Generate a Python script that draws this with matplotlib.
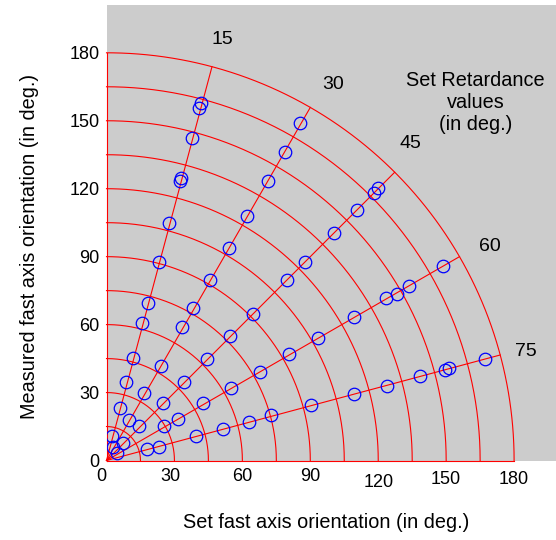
import numpy as np
import matplotlib
matplotlib.use("Agg")
import matplotlib.pyplot as plt

plt.rcParams['font.family'] = ['Liberation Sans', 'DejaVu Sans']

# ---------------- data ----------------
retardance = [15, 30, 45, 60, 75]

# measured points for each set retardance (x = set, y = measured)
x_15 = [41.7, 41.0, 37.7, 32.9, 32.6, 27.6, 23.3, 18.2, 15.8, 11.8, 8.6, 6.0, 2.3]
y_15 = [157.7, 155.8, 142.3, 124.9, 123.4, 105.0, 87.5, 69.7, 60.6, 45.4, 34.5, 23.0, 10.8]

x_30 = [85.4, 78.8, 71.4, 61.9, 54.0, 45.7, 38.3, 33.5, 24.1, 16.7, 10.1, 2.7]
y_30 = [148.9, 136.0, 123.4, 107.9, 93.7, 79.7, 67.5, 58.8, 41.9, 29.9, 17.9, 6.1]

x_45 = [120.0, 118.1, 110.5, 100.3, 87.6, 79.6, 64.5, 54.5, 44.2, 34.3, 24.8, 14.5, 7.4]
y_45 = [120.1, 118.0, 110.5, 100.3, 87.5, 79.7, 64.7, 54.8, 44.7, 34.5, 25.3, 15.2, 7.9]

x_60 = [148.4, 133.6, 128.1, 123.4, 109.3, 93.6, 80.7, 67.8, 54.8, 42.7, 31.4, 25.4, 4.5]
y_60 = [85.7, 77.0, 73.5, 71.6, 63.5, 54.1, 46.9, 39.2, 31.9, 25.3, 18.3, 15.2, 3.2]

x_75 = [167.3, 151.1, 149.7, 138.3, 124.0, 109.3, 90.3, 72.8, 63.1, 51.6, 39.5, 23.3, 17.7]
y_75 = [44.7, 40.7, 40.0, 37.3, 33.0, 29.3, 24.4, 19.9, 17.1, 13.8, 10.9, 6.1, 4.9]

arc_radii = [15, 30, 45, 60, 75, 90, 105, 120, 135, 150, 165, 180]
tick_vals = [0, 30, 60, 90, 120, 150, 180]

# where the retardance numbers sit
label_pos = {15: (51, 185.7), 30: (100, 165.8), 45: (134.4, 140),
             60: (169.4, 94.4), 75: (185.2, 48)}

# ---------------- figure ----------------
fig = plt.figure(figsize=(5.56, 5.40), dpi=100)
ax = fig.add_axes([0.19155, 0.14722, 0.80845, 0.84352])
ax.set_facecolor('#cccccc')
ax.set_xlim(0, 198.5)
ax.set_ylim(0, 201.1)
for s in ax.spines.values():
    s.set_visible(False)

# polar grid: arcs and radial lines
t = np.linspace(0, np.pi / 2, 300)
for r in arc_radii:
    ax.plot(r * np.cos(t), r * np.sin(t), color='red', lw=0.8, clip_on=False, zorder=2)
r_max = arc_radii[-1]
for ang in [0] + [90 - v for v in retardance] + [90]:
    a = np.deg2rad(ang)
    ax.plot([0, r_max * np.cos(a)], [0, r_max * np.sin(a)], color='red', lw=0.8,
            clip_on=False, zorder=2)

# measured points
for xs, ys in [(x_15, y_15), (x_30, y_30), (x_45, y_45), (x_60, y_60), (x_75, y_75)]:
    ax.plot(xs, ys, 'o', mfc='none', mec='#0000ff', ms=9, mew=0.9, zorder=3)

# retardance labels
for v in retardance:
    lx, ly = label_pos[v]
    ax.text(lx, ly, str(v), fontsize=14, ha='center', va='center')
ax.text(163, 158, 'Set Retardance\nvalues\n(in deg.)', fontsize=14.3,
        ha='center', va='center', linespacing=1.2)

# ticks
ax.set_yticks(tick_vals)
ax.set_yticklabels([str(v) for v in tick_vals], fontsize=13)
ax.tick_params(axis='y', length=0, pad=5)
ax.set_xticks([])
x_off = {0: -2.5, 30: -2.0}
y_pos = {120: -9.5, 150: -8.5, 180: -8.5}
for v in tick_vals:
    ax.text(v + x_off.get(v, 0), y_pos.get(v, -7.0), str(v),
            fontsize=13, ha='center', va='center', clip_on=False)

fig.text(326 / 556, 1 - 523 / 540, 'Set fast axis orientation (in deg.)',
         fontsize=14.3, ha='center', va='center')
fig.text(30 / 556, 1 - 246 / 540, 'Measured fast axis orientation (in deg.)',
         fontsize=14.3, ha='center', va='center', rotation=90)

fig.savefig('out.png', dpi=100)
